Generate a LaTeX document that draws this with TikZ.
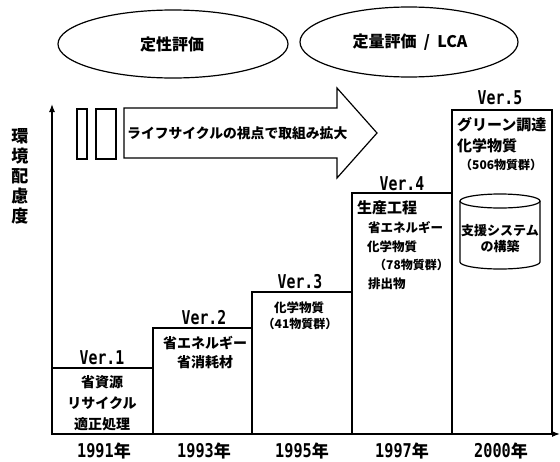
\documentclass[tikz,border=0pt]{standalone}
\usepackage{fontspec}
\usepackage{graphicx}
\setmainfont{Noto Sans CJK JP}
\newfontfamily\verfont{DejaVu Sans Mono}
\usetikzlibrary{arrows.meta}
\tikzset{
  line/.style={line width=1.2pt},
  jp/.style={font=\fontsize{14}{14}\selectfont\bfseries, inner sep=0pt},
  jpmid/.style={font=\fontsize{12.5}{12.5}\selectfont\bfseries, inner sep=0pt},
  jpsmall/.style={font=\fontsize{12}{12}\selectfont\bfseries, inner sep=0pt},
  jplarge/.style={font=\fontsize{15}{15}\selectfont\bfseries, inner sep=0pt},
  big/.style={font=\fontsize{16}{16}\selectfont\bfseries, inner sep=0pt},
  verlabel/.style={font=\fontsize{19}{19}\selectfont\bfseries, inner sep=0pt},
  axisarrow/.style={line width=1.2pt, -{Latex[length=8pt,width=6pt]}}
}
\newcommand{\verlab}[1]{\scalebox{0.78}[1]{\verfont\bfseries #1}}
\newcommand{\yearlab}[1]{\scalebox{0.8}[1]{\verfont\bfseries #1}{\fontsize{17}{17}\selectfont 年}}
\begin{document}
\begin{tikzpicture}[x=1pt,y=-1pt]
\useasboundingbox (0,0) rectangle (560,461);
% ellipses
\draw[line] (173,44) ellipse [x radius=115pt, y radius=34pt];
\draw[line] (409,42) ellipse [x radius=109pt, y radius=35pt];
\node[big] (qual) at (172,44) {定性評価};
\node[big] (quant) at (410,42) {定量評価 \ / \ LCA};
% vertical label
\node[font=\fontsize{17}{20}\selectfont\bfseries, align=center, inner sep=0pt] (ylab) at (20,176) {環\\境\\配\\慮\\度};
% big arrow
\draw[line] (77,109) rectangle (87,159);
\draw[line] (96,109) rectangle (116,159);
\draw[line] (124,108) -- (337,108) -- (337,88) -- (377,133) -- (337,178) -- (337,158) -- (124,158) -- cycle;
\node[font=\fontsize{13.8}{13.8}\selectfont\bfseries, inner sep=0pt, anchor=west] (life) at (127,133) {ライフサイクルの視点で取組み拡大};
% steps
\draw[line] (52,368) rectangle (153,434);
\draw[line] (153,328) rectangle (252,434);
\draw[line] (252,292) rectangle (352,434);
\draw[line] (352,193) rectangle (452,434);
\draw[line] (452,110) rectangle (552,434);
% axes
\coordinate (origin) at (52,434);
\coordinate (ytop) at (52,104);
\coordinate (xend) at (560,434);
\draw[axisarrow] (origin) -- (ytop);
\draw[axisarrow] (origin) -- (xend);
% version labels
\node[verlabel] (v1) at (102,358) {\verlab{Ver.1}};
\node[verlabel] (v2) at (204,318) {\verlab{Ver.2}};
\node[verlabel] (v3) at (300,282) {\verlab{Ver.3}};
\node[verlabel] (v4) at (402,184) {\verlab{Ver.4}};
\node[verlabel] (v5) at (500,98) {\verlab{Ver.5}};
% years
\node[verlabel, anchor=base] (y1) at (104,457) {\yearlab{1991}};
\node[verlabel, anchor=base] (y2) at (204,457) {\yearlab{1993}};
\node[verlabel, anchor=base] (y3) at (302,457) {\yearlab{1995}};
\node[verlabel, anchor=base] (y4) at (402,457) {\yearlab{1997}};
\node[verlabel, anchor=base] (y5) at (501,457) {\yearlab{2000}};
% Ver.1 content
\node[jp] (a1) at (102,382) {省資源};
\node[jp] (a2) at (102,403) {リサイクル};
\node[jp] (a3) at (102,424) {適正処理};
% Ver.2 content
\node[jp] (b1) at (205,343) {省エネルギー};
\node[jp] (b2) at (205,362) {省消耗材};
% Ver.3 content
\node[jpmid] (c1) at (299,308) {化学物質};
\node[jpsmall] (c2) at (300,324) {（41物質群）};
% Ver.4 content
\node[jplarge, anchor=west] (d1) at (357,208) {生産工程};
\node[jpmid, anchor=west] (d2) at (368,228) {省エネルギー};
\node[jpmid, anchor=west] (d3) at (367,247) {化学物質};
\node[jpsmall, anchor=west] (d4) at (374,265) {（78物質群）};
\node[jpmid, anchor=west] (d5) at (368,284) {排出物};
% Ver.5 content
\node[jplarge, anchor=west] (e1) at (457,125) {グリーン調達};
\node[jplarge, anchor=west] (e2) at (457,146) {化学物質};
\node[jpsmall, anchor=west] (e3) at (460,165) {（506物質群）};
% cylinder
\draw[line] (500,201) ellipse [x radius=40pt, y radius=7pt];
\draw[line] (460,201) -- (460,262) arc[start angle=180, end angle=360, x radius=40pt, y radius=7pt] -- (540,201);
\node[jp, font=\fontsize{13}{13}\selectfont\bfseries] (s1) at (500,231) {支援システム};
\node[jp, font=\fontsize{13}{13}\selectfont\bfseries] (s2) at (500,246) {の構築};
\end{tikzpicture}
\end{document}
